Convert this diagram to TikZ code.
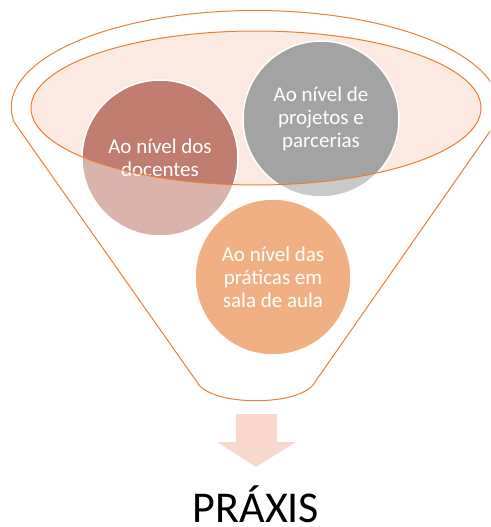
\documentclass[tikz,border=0pt]{standalone}
\usepackage{fontspec}
\setmainfont{Carlito}
\usetikzlibrary{positioning}

\definecolor{funnelorange}{HTML}{ED7D31}
\definecolor{rimpink}{HTML}{FBE9E2}
\definecolor{docred}{HTML}{C07D6F}
\definecolor{projgray}{HTML}{A3A3A3}
\definecolor{pratorange}{HTML}{F0B083}
\definecolor{arrowpink}{HTML}{F8D8CC}

\tikzset{
  bubble/.style={circle, minimum size=156pt, inner sep=0pt, draw=white,
    line width=1.5pt, text=white, align=center,
    font=\fontsize{21}{23}\selectfont},
  funnelline/.style={funnelorange, line width=1pt}
}

\begin{document}
\begin{tikzpicture}[x=1pt, y=-1pt]
    \useasboundingbox (0,0) rectangle (490,527);

    % Funnel body
    \begin{scope}
      \clip (0,0) rectangle (490,527);
      \draw[funnelline] (14,122) arc[start angle=188.6, end angle=-8.6, x radius=244pt, y radius=97pt]
        -- (315,382) .. controls (302,407) and (210,407) .. (197,382) -- cycle;
    \end{scope}

    % Rim of the funnel
    \fill[rimpink] (256,108) ellipse[x radius=225pt, y radius=77pt];

    % Circles
    \node[bubble, fill=docred] (doc) at (160,158) {Ao nível dos\\docentes};
    \node[bubble, fill=projgray] (proj) at (321,119) {Ao nível de\\projetos e\\parcerias};
    \node[bubble, fill=pratorange] (prat) at (273,277) {Ao nível das\\práticas em\\sala de aula};

    % Paler part below the rim
    \begin{scope}
      \clip (31,108) arc[start angle=180, end angle=360, x radius=225pt, y radius=77pt]
        -- (481,300) -- (31,300) -- cycle;
      \fill[white, opacity=.42] (doc.center) circle[radius=79pt];
      \fill[white, opacity=.42] (proj.center) circle[radius=79pt];
    \end{scope}
    \draw[funnelline] (256,108) ellipse[x radius=225pt, y radius=77pt];

    % Result
    \node[font=\fontsize{44}{50}\selectfont, anchor=base, inner sep=0pt] (praxis) at (256,522) {PRÁXIS};
    \fill[arrowpink] (236,414) -- (277,414) -- (277,442) -- (296,442) -- (256,467)
      -- (217,442) -- (236,442) -- cycle;
\end{tikzpicture}
\end{document}
